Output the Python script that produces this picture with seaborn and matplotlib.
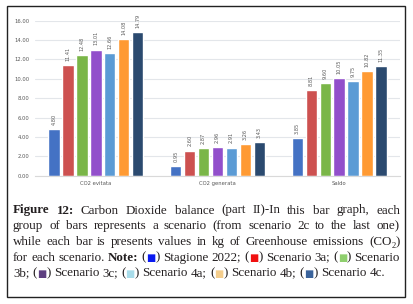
import pandas as pd
import seaborn as sns
import matplotlib.pyplot as plt
from matplotlib.patches import Rectangle

# data
categories = ["CO2 evitata", "CO2 generata", "Saldo"]
scenarios = ["Stagione 2022", "Scenario 3a", "Scenario 3b", "Scenario 3c",
             "Scenario 4a", "Scenario 4b", "Scenario 4c"]
evitata = [4.80, 11.41, 12.48, 13.01, 12.66, 14.08, 14.79]
generata = [0.95, 2.60, 2.87, 2.96, 2.91, 3.26, 3.43]
saldo = [3.85, 8.81, 9.60, 10.05, 9.75, 10.82, 11.35]
y_ticks = [0, 2, 4, 6, 8, 10, 12, 14, 16]

bar_colors = ["#4472C4", "#CD5150", "#7AB648", "#924FCB",
              "#5B9BD5", "#FF9A33", "#2B4A6F"]
note_colors = ["#0A1AF0", "#F01010", "#8FCF6E", "#5E3F80",
               "#A8DCEA", "#F4CD8C", "#3A639B"]

rows = []
for cat, vals in zip(categories, [evitata, generata, saldo]):
    for sc, v in zip(scenarios, vals):
        rows.append({"cat": cat, "scenario": sc, "value": v})
df = pd.DataFrame(rows)

sns.set_theme(style="white")
plt.rcParams["font.family"] = ["DejaVu Sans"]

W, H = 414, 304
fig = plt.figure(figsize=(W / 100, H / 100), dpi=100)
fig.patch.set_facecolor("white")

# axes in pixel coords
ax_l, ax_r, ax_t, ax_b = 35, 400, 20.7, 175.7
ax = fig.add_axes([ax_l / W, 1 - ax_b / H, (ax_r - ax_l) / W, (ax_b - ax_t) / H])

sns.barplot(data=df, x="cat", y="value", hue="scenario", palette=bar_colors,
            width=0.8, gap=0.18, legend=False, ax=ax, saturation=1)

for cont in ax.containers:
    ax.bar_label(cont, fmt="%.2f", rotation=90, padding=3,
                 fontsize=3.6, color="#595959")

ax.set_ylim(0, 16)
ax.set_yticks(y_ticks)
ax.set_yticklabels([f"{t:.2f}" for t in y_ticks])
ax.yaxis.grid(True, color="#E3E6EA", linewidth=0.8)
ax.set_axisbelow(True)
for s in ["top", "right", "left"]:
    ax.spines[s].set_visible(False)
ax.spines["bottom"].set_color("#D9D9D9")
ax.spines["bottom"].set_linewidth(0.8)
ax.tick_params(axis="both", length=0, labelsize=3.8, labelcolor="#595959", pad=4)
ax.set_xlabel("")
ax.set_ylabel("")

# outer frame
fig.add_artist(Rectangle((7 / W, 1 - 297 / H), (405 - 7) / W, (297 - 6) / H,
                         transform=fig.transFigure, fill=False,
                         edgecolor="#222222", linewidth=1.0))

# caption, justified word by word
fs = 9.4
fam = ["Liberation Serif", "DejaVu Serif", "DejaVu Sans"]
txt_color = "#231F20"


def words(s):
    return [[(w, {})] for w in s.split()]


def note(i):
    return [("(", {}), ("\u25A0", {"color": note_colors[i], "family": ["DejaVu Sans"], "size": fs * 0.75}), (")", {})]


lines = [
    [[("Figure", {"weight": "bold"})], [("12:", {"weight": "bold"})]]
    + words("Carbon Dioxide balance (part II)-In this bar graph, each"),
    words("group of bars represents a scenario (from scenario 2c to the last one)"),
    words("while each bar is presents values in kg of Greenhouse emissions")
    + [[("(CO", {}), ("2", {"sub": True}), (")", {})]],
    words("for each scenario.") + [[("Note:", {"weight": "bold"})]]
    + [note(0)] + words("Stagione 2022;") + [note(1)] + words("Scenario 3a;")
    + [note(2)] + words("Scenario"),
    words("3b;") + [note(3)] + words("Scenario 3c;") + [note(4)] + words("Scenario 4a;")
    + [note(5)] + words("Scenario 4b;") + [note(6)] + words("Scenario 4c."),
]
baselines = [213.5, 229.2, 245, 260.7, 276.5]
x_left, x_right = 13, 400

renderer = fig.canvas.get_renderer()


def make_run(x, y, text, st):
    size = st.get("size", fs)
    dy = 0
    if st.get("sub"):
        size = fs * 0.65
        dy = 2.5
    t = fig.text(x / W, 1 - (y + dy) / H, text, fontsize=size,
                 family=st.get("family", fam), weight=st.get("weight", "normal"),
                 color=st.get("color", txt_color), va="baseline", ha="left")
    return t


for li, (line, yb) in enumerate(zip(lines, baselines)):
    # measure words
    placed = []
    widths = []
    for word in line:
        runs = []
        wsum = 0
        for text, st in word:
            t = make_run(0, yb, text, st)
            wr = t.get_window_extent(renderer=renderer).width
            runs.append((t, wr))
            wsum += wr
        placed.append(runs)
        widths.append(wsum)
    if li < len(lines) - 1:
        gap = (x_right - x_left - sum(widths)) / (len(line) - 1)
    else:
        # last line is left aligned, ends near x=385 in the reference
        gap = (385 - x_left - sum(widths)) / (len(line) - 1)
    x = x_left
    for runs, wsum in zip(placed, widths):
        xx = x
        for t, wr in runs:
            pos = t.get_position()
            t.set_position((xx / W, pos[1]))
            xx += wr
        x += wsum + gap

fig.savefig("out.png", dpi=100, facecolor="white")
